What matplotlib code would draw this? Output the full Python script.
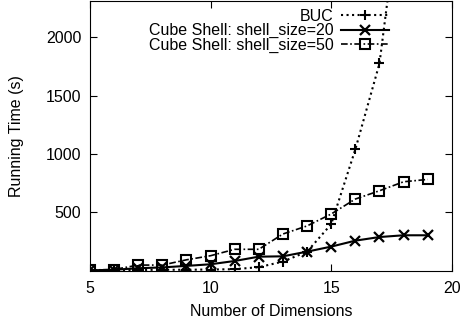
import matplotlib
matplotlib.use("Agg")
import matplotlib.pyplot as plt

plt.rcParams['font.family'] = ['Liberation Sans', 'DejaVu Sans']

dims = [5, 6, 7, 8, 9, 10, 11, 12, 13, 14, 15, 16, 17, 18, 19]
buc = [5, 5, 8, 10, 10, 12, 15, 32, 80, 165, 400, 1040, 1775, 3400, 6000]
shell20 = [5, 10, 23, 30, 43, 57, 85, 122, 125, 165, 208, 259, 290, 305, 305]
shell50 = [8, 12, 50, 50, 95, 130, 185, 185, 316, 385, 487, 615, 686, 763, 783]

fig = plt.figure(figsize=(4.63, 3.21), dpi=100)
ax = fig.add_axes([0.194, 0.156, 0.782, 0.841])

ax.plot(dims, buc, color='black', linestyle=':', linewidth=1.5,
        marker='+', markersize=7, markeredgewidth=1.5, label='BUC')
ax.plot(dims, shell20, color='black', linestyle='-', linewidth=1.5,
        marker='x', markersize=6.5, markeredgewidth=1.6,
        label='Cube Shell: shell_size=20')
ax.plot(dims, shell50, color='black', linestyle=(0, (4, 1.5, 1, 1.5)), linewidth=1.2,
        marker='s', markersize=6.5, markerfacecolor='none', markeredgewidth=1.5,
        label='Cube Shell: shell_size=50')

ax.set_xlim(5, 20)
ax.set_ylim(0, 2310)
ax.set_xticks([5, 10, 15, 20])
ax.set_yticks([500, 1000, 1500, 2000])
ax.tick_params(direction='in', top=True, right=True, length=5, labelsize=11.5)
ax.tick_params(axis='x', pad=7)
ax.tick_params(axis='y', pad=6)
ax.set_xlabel('Number of Dimensions', fontsize=11.5, labelpad=6)
ax.set_ylabel('Running Time (s)', fontsize=11.5, labelpad=16)

ax.legend(loc='upper right', bbox_to_anchor=(0.845, 0.995), frameon=False,
          markerfirst=False, fontsize=11.5, handlelength=3.05, handletextpad=0.45,
          labelspacing=-0.03, borderaxespad=0)

fig.savefig('out.png', dpi=100)
